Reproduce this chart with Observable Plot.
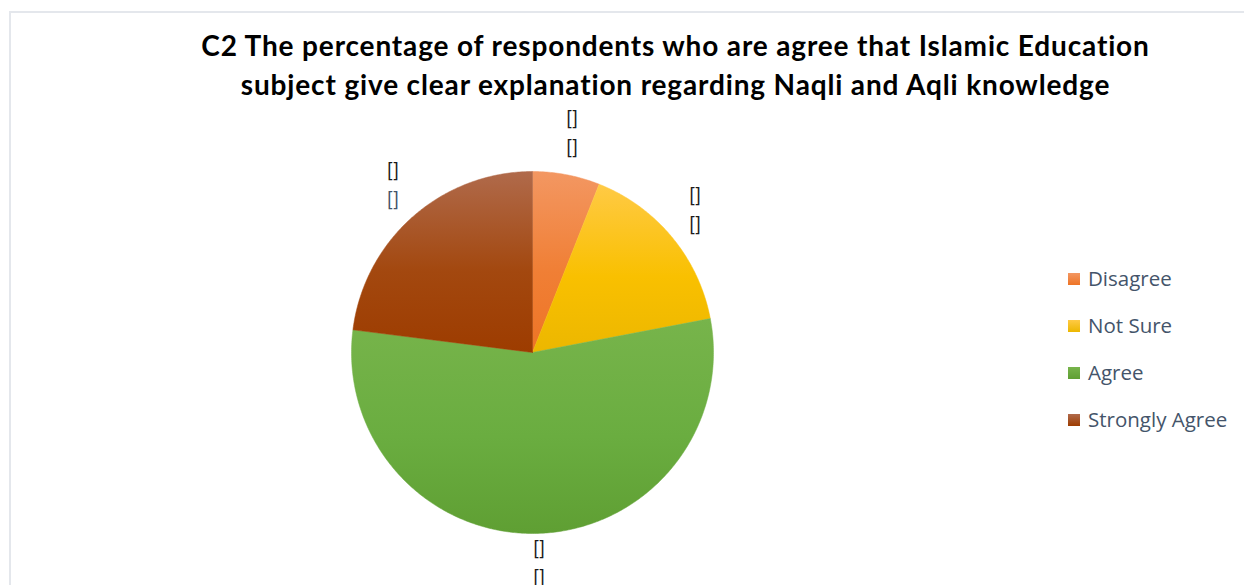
<!DOCTYPE html>
<html>
<head>
<meta charset="utf-8">
<script src="https://cdn.jsdelivr.net/npm/d3@7"></script>
<script src="https://cdn.jsdelivr.net/npm/@observablehq/plot@0.6"></script>
<style>
  html, body { margin: 0; padding: 0; background: #fff; width: 1244px; height: 585px; overflow: hidden; }
  #frame { position: absolute; left: 9px; top: 11px; width: 1250px; height: 600px; border: 2px solid #e4e7ec; box-sizing: border-box; }
  #title { position: absolute; left: 0; top: 26px; width: 1351px; text-align: center; font-family: Lato, "Open Sans", sans-serif; font-weight: bold; font-size: 28px; letter-spacing: 0.85px; line-height: 39px; color: #000; }
  #chart { position: absolute; left: 0; top: 105px; }
  #legend { position: absolute; left: 1068px; top: 264px; font-family: "Open Sans", Lato, sans-serif; font-size: 20.5px; color: #44546a; }
  .item { height: 47px; display: flex; align-items: flex-start; }
  .sw { width: 12px; height: 12px; margin-top: 9px; margin-right: 8px; }
</style>
</head>
<body>
<div id="frame"></div>
<div id="title">C2 The percentage of respondents who are agree that Islamic Education<br>subject give clear explanation regarding Naqli and Aqli knowledge</div>
<div id="chart"></div>
<div id="legend"></div>
<script>
const categories = ["Disagree", "Not Sure", "Agree", "Strongly Agree"];
const values = [6, 16, 55, 23];
const labelLine1 = ["[]", "[]", "[]", "[]"];
const labelLine2 = ["[]", "[]", "[]", "[]"];
const labelLine2Colors = ["#1a1a1a", "#1a1a1a", "#1a1a1a", "#44546a"];
const gradTop = ["#f39762", "#ffca45", "#77b44b", "#b06a4b"];
const gradMid = ["#f07f35", "#f9c000", "#6aad40", "#a3480f"];
const gradBottom = ["#ee7426", "#ecb700", "#5f9f33", "#9d3c00"];

// gradient defs
const ns = "http://www.w3.org/2000/svg";
const defsSvg = document.createElementNS(ns, "svg");
defsSvg.setAttribute("width", 0); defsSvg.setAttribute("height", 0);
defsSvg.style.position = "absolute";
const defs = document.createElementNS(ns, "defs");
categories.forEach((c, i) => {
  const g = document.createElementNS(ns, "linearGradient");
  g.setAttribute("id", "g" + i);
  g.setAttribute("x1", 0); g.setAttribute("y1", 0); g.setAttribute("x2", 0); g.setAttribute("y2", 1);
  [[0, gradTop[i]], [0.55, gradMid[i]], [1, gradBottom[i]]].forEach(([o, col]) => {
    const s = document.createElementNS(ns, "stop");
    s.setAttribute("offset", o); s.setAttribute("stop-color", col);
    g.appendChild(s);
  });
  defs.appendChild(g);
});
defsSvg.appendChild(defs);
document.body.appendChild(defsSvg);

const arcs = d3.pie().sort(null).value(d => d)(values);
const slices = arcs.map((a, i) => {
  const pts = [{x: 0, y: 0, i}];
  const n = Math.max(2, Math.ceil((a.endAngle - a.startAngle) / 0.01));
  for (let k = 0; k <= n; k++) {
    const t = a.startAngle + (a.endAngle - a.startAngle) * k / n;
    pts.push({x: Math.sin(t), y: Math.cos(t), i});
  }
  pts.push({x: 0, y: 0, i});
  return pts;
});
// outside-end label placement: radial offset, labels in upper half lifted a bit more
const labelR = 1.166;
const lift = 0.066;
const labels = arcs.map((a, i) => {
  const m = (a.startAngle + a.endAngle) / 2;
  return {x: labelR * Math.sin(m), y: labelR * Math.cos(m) + lift * Math.max(0, Math.cos(m)), l1: labelLine1[i], l2: labelLine2[i], c2: labelLine2Colors[i]};
});

const cx = 532, cy = 352 - 105, r = 181;
const font = "Lato, 'Open Sans', sans-serif";
const plot = Plot.plot({
  width: 1244,
  height: 480,
  x: {domain: [-1, 1], range: [cx - r, cx + r], axis: null},
  y: {domain: [-1, 1], range: [cy + r, cy - r], axis: null},
  style: {background: "transparent", overflow: "visible"},
  marks: [
    ...slices.map((pts, i) => Plot.line(pts, {x: "x", y: "y", fill: `url(#g${i})`, stroke: `url(#g${i})`, strokeWidth: 0.5, curve: "linear"})),
    Plot.text(labels, {x: "x", y: "y", text: "l1", dy: -14.5, fill: "#1a1a1a", fontSize: 20, fontFamily: font}),
    Plot.text(labels, {x: "x", y: "y", text: "l2", dy: 14.5, fill: "c2", fontSize: 20, fontFamily: font})
  ]
});
document.getElementById("chart").appendChild(plot);

const legend = document.getElementById("legend");
categories.forEach((c, i) => {
  const it = document.createElement("div");
  it.className = "item";
  const sw = document.createElement("div");
  sw.className = "sw";
  sw.style.background = `linear-gradient(${gradTop[i]}, ${gradBottom[i]})`;
  const t = document.createElement("span");
  t.textContent = c;
  it.appendChild(sw); it.appendChild(t);
  legend.appendChild(it);
});
</script>
</body>
</html>
